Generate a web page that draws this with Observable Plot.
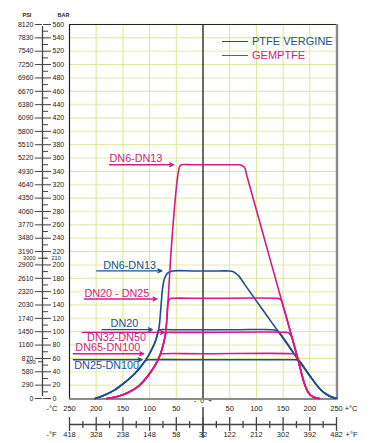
<!DOCTYPE html>
<html><head><meta charset="utf-8">
<script src="https://cdn.jsdelivr.net/npm/d3@7"></script>
<script src="https://cdn.jsdelivr.net/npm/@observablehq/plot@0.6"></script>
<style>
body{margin:0;background:#fff;}
#wrap{position:relative;width:371px;height:443px;font-family:"Liberation Sans",Arial,sans-serif;}
#legend{position:absolute;left:222px;top:34px;font-size:11px;line-height:14px;}
.row{display:flex;align-items:center;white-space:nowrap;}
.sw{display:inline-block;width:26px;height:0;border-top:1.5px solid;margin-right:4px;}
</style></head><body>
<div id="wrap"><div id="legend"></div></div>
<script>
// ---- data ----
const seriesNames = ["PTFE VERGINE", "GEMPTFE"];
const seriesColors = ["#1c4f8f", "#d41a84"];

const barMajor = [0,20,40,60,80,100,120,140,160,180,200,220,240,260,280,300,320,340,360,380,400,420,440,460,480,500,520,540,560];
const barMinor = [10,30,50,70,90,110,130,150,170,190,210,230,250,270,290,310,330,350,370,390,410,430,450,470,490,510,530,550];
const psiLabels = ["0","290","580","870","1160","1450","1740","2030","2320","2610","2900","3190","3480","3770","4060","4350","4640","4930","5220","5510","5800","6090","6380","6670","6960","7250","7540","7830","8120"];
const barExtra = [210, 55];
const psiExtra = ["3000", "800"];

const cTicks = [-250,-200,-150,-100,-50,0,50,100,150,200,250];
const cMinor = [-225,-175,-125,-75,-25,25,75,125,175,225];
const fLabels = ["418","328","238","148","58","32","122","212","302","392","482"];

// curves: [°C, bar]
const vergineDN6 = [[-202,0],[-185,5],[-165,13],[-145,25],[-128,37],[-114,50],[-103,63],[-95,75],[-89,86],[-85,97],[-82,108],[-80,125],[-78,145],[-76,163],[-73,177],[-69,185],[-64,189],[-57,191],[-20,191],[30,191],[50,191],[56,190],[61,187.5],[66,184.3],[79.6,169],[130,112.5],[179.4,57],[200,34],[215,18],[224,10.5],[232,6],[240,2.5],[248,0.5],[251,0]];
const vergineDN20 = [[-202,0],[-185,5],[-165,13],[-145,25],[-128,37],[-114,50],[-103,63],[-95,75],[-89,86],[-85,97],[-83.5,101.5],[-81,103],[-60,103],[60,103],[131,103],[136,102],[141,100],[179.4,57],[200,34],[215,18],[224,10.5],[232,6],[240,2.5],[248,0.5],[251,0]];
const vergineDN25 = [[-202,0],[-185,5],[-165,13],[-145,25],[-128,37],[-114,50],[-110,55],[-105,57.5],[-98,58],[0,58],[170,58],[175,57.8],[179.4,57],[200,34],[215,18],[224,10.5],[232,6],[240,2.5],[248,0.5],[251,0]];
const gemDN6 = [[-180,0],[-160,3],[-140,9],[-120,19],[-106,31],[-95,43],[-86,55],[-80,66],[-75,79],[-71,93],[-68,115],[-66,140],[-64,165],[-61,205],[-58,240],[-54,280],[-50,315],[-47,335],[-45,344],[-43,348.5],[-40,350],[-20,350],[40,350],[66,350],[71,349.6],[74.5,348],[78,345.6],[82,334],[130,196],[179.4,54],[185,36],[190,22],[195,12],[200,6],[206,2.5],[212,0.8],[218,0]];
const gemDN20 = [[-180,0],[-160,3],[-140,9],[-120,19],[-106,31],[-95,43],[-86,55],[-80,66],[-75,79],[-71,93],[-68,115],[-66,140],[-64.5,146],[-62,149.3],[-58,150],[0,150],[138,150],[143,149.3],[146.5,147],[149,141.4],[179.4,54],[185,36],[190,22],[195,12],[200,6],[206,2.5],[212,0.8],[218,0]];
const gemDN32 = [[-180,0],[-160,3],[-140,9],[-120,19],[-106,31],[-95,43],[-86,55],[-80,66],[-75,79],[-71,93],[-69.5,97.5],[-67,99],[-62,99],[0,99],[156,99],[160.5,98.3],[163.5,95.5],[166,92.5],[179.4,54],[185,36],[190,22],[195,12],[200,6],[206,2.5],[212,0.8],[218,0]];
const gemDN65 = [[-180,0],[-160,3],[-140,9],[-120,19],[-106,31],[-95,43],[-86,55],[-82.5,62],[-79.5,66.3],[-76,67],[0,67],[170,67],[174,66.2],[177,60.9],[179.4,54],[185,36],[190,22],[195,12],[200,6],[206,2.5],[212,0.8],[218,0]];

const curves = [
  ["PTFE VERGINE","DN6-DN13",vergineDN6],
  ["PTFE VERGINE","DN20",vergineDN20],
  ["PTFE VERGINE","DN25-DN100",vergineDN25],
  ["GEMPTFE","DN6-DN13",gemDN6],
  ["GEMPTFE","DN20-DN25",gemDN20],
  ["GEMPTFE","DN32-DN50",gemDN32],
  ["GEMPTFE","DN65-DN100",gemDN65]
];

// size labels with pointer arrows
const labelText   = ["DN6-DN13","DN6-DN13","DN20 - DN25","DN20","DN32-DN50","DN65-DN100","DN25-DN100"];
const labelSeries = ["GEMPTFE","PTFE VERGINE","GEMPTFE","PTFE VERGINE","GEMPTFE","GEMPTFE","PTFE VERGINE"];
const labelLevel  = [350,191,149,103,99,67,58];
const labelFrom   = [-175,-199,-222,-189,-226,-243,-243];
const labelTo     = [-55,-77,-86,-95,-72,-111,-114];
const labelTextX  = [-175,-187,-222,-173,-217,-239,-241];
const labelBelow  = [false,false,false,false,true,false,true];

// ---- build ----
const rows = [];
curves.forEach(([s, size, pts], k) => pts.forEach(([T, P]) => rows.push({id: k, series: s, size, T, P})));
const labels = labelText.map((t, i) => ({text: t, series: labelSeries[i], level: labelLevel[i], from: labelFrom[i], to: labelTo[i], tx: labelTextX[i], below: labelBelow[i]}));
const psiMap = new Map(barMajor.map((b, i) => [b, psiLabels[i]]));
const psiExtraMap = new Map(barExtra.map((b, i) => [b, psiExtra[i]]));
const cLabelTicks = cTicks.filter(d => d !== 0);

const font = "'Liberation Sans', Arial, sans-serif";
const chart = Plot.plot({
  width: 371, height: 443,
  marginLeft: 69, marginRight: 35, marginTop: 24, marginBottom: 45,
  style: {fontFamily: font, fontSize: "7.5px", background: "white", overflow: "visible"},
  x: {domain: [-250, 250]},
  y: {domain: [0, 560]},
  color: {domain: seriesNames, range: seriesColors},
  marks: [
    // grid
    Plot.ruleY(barMajor.filter(d => d % 40 === 0), {stroke: "#edf2c8", strokeWidth: 1.6}),
    Plot.ruleY(barMajor.filter(d => d % 40 === 20), {stroke: "#dce697", strokeWidth: 1}),
    Plot.ruleX(cTicks, {stroke: "#dce697", strokeWidth: 1}),
    // centre line
    Plot.ruleX([0], {stroke: "#111", strokeWidth: 1.2}),
    Plot.axisX([0], {anchor: "bottom", dy: 9, tickSize: 31, tickFormat: () => "", label: null, stroke: "#111", strokeWidth: 1.2}),
    Plot.text(["-  0  +"], {x: 0, frameAnchor: "bottom", dy: 4.5, text: d => d, fontSize: 7, fill: "#222"}),
    // frame
    Plot.ruleX([-250], {stroke: "#222", strokeWidth: 1.2}),
    Plot.ruleY([560], {stroke: "#222", strokeWidth: 1.2}),
    Plot.ruleX([250], {stroke: "#8a8a8a", strokeWidth: 2.4, dx: 0.5}),
    Plot.ruleY([0], {stroke: "#8a8a8a", strokeWidth: 2, dy: 0.5}),
    // left dual axis
    Plot.ruleX([-250], {y1: 0, y2: 560, dx: -27, stroke: "#444", strokeWidth: 1.3, insetTop: -2, insetBottom: -2}),
    Plot.axisY(barMajor, {anchor: "left", dx: -27, tickSize: 7, tickPadding: 2, tickFormat: d => psiMap.get(d), label: null, stroke: "#444", fill: "#222", fontSize: 7}),
    Plot.axisY(barExtra, {anchor: "left", dx: -27, tickSize: 4, tickPadding: 3, tickFormat: d => psiExtraMap.get(d), label: null, stroke: "#444", fill: "#222", fontSize: 5.6}),
    Plot.axisY(barMajor, {anchor: "right", dx: -294, tickSize: 8, tickPadding: 2, label: null, stroke: "#444", fill: "#222", fontSize: 7}),
    Plot.axisY([210], {anchor: "right", dx: -294, tickSize: 4, tickPadding: 5, label: null, stroke: "#444", fill: "#222", fontSize: 5.6}),
    Plot.axisY(barMinor, {anchor: "right", dx: -294, tickSize: 5, tickFormat: () => "", label: null, stroke: "#444"}),
    Plot.text(["PSI"], {frameAnchor: "top-left", dx: -47, dy: -11, text: d => d, fontSize: 5.5, fontWeight: "bold", fill: "#222"}),
    Plot.text(["BAR"], {frameAnchor: "top-left", dx: -12, dy: -11, text: d => d, fontSize: 5.5, fontWeight: "bold", fill: "#222"}),
    // bottom dual axis
    Plot.ruleY([0], {x1: -250, x2: 250, dy: 26, stroke: "#444", strokeWidth: 1.3}),
    Plot.axisX(cTicks, {anchor: "bottom", dy: 19, tickSize: 14, tickFormat: () => "", label: null, stroke: "#444", strokeWidth: 1.3}),
    Plot.axisX(cMinor, {anchor: "bottom", dy: 23, tickSize: 7, tickFormat: () => "", label: null, stroke: "#444", strokeWidth: 1.3}),
    Plot.text(cLabelTicks, {x: d => d, text: d => String(Math.abs(d)), frameAnchor: "bottom", dy: 12.5, fill: "#222"}),
    Plot.text(cTicks, {x: d => d, text: (d, i) => fLabels[i], frameAnchor: "bottom", dy: 38.5, fill: "#222"}),
    Plot.text(["-°C"], {frameAnchor: "bottom-left", dx: -23, dy: 12.5, text: d => d, fill: "#222"}),
    Plot.text(["-°F"], {frameAnchor: "bottom-left", dx: -23, dy: 38.5, text: d => d, fill: "#222"}),
    Plot.text(["+°C"], {frameAnchor: "bottom-right", dx: 21, dy: 12.5, text: d => d, fill: "#222"}),
    Plot.text(["+°F"], {frameAnchor: "bottom-right", dx: 21, dy: 38.5, text: d => d, fill: "#222"}),
    // curves
    Plot.line(rows, {x: "T", y: "P", z: "id", stroke: "series", curve: "catmull-rom", strokeWidth: 1.6}),
    // size labels
    Plot.arrow(labels, {x1: "from", x2: "to", y1: "level", y2: "level", stroke: "series", strokeWidth: 1.3, headLength: 5, headAngle: 50}),
    Plot.text(labels.filter(d => !d.below), {x: "tx", y: "level", text: "text", fill: "series", textAnchor: "start", dy: -5.8, fontSize: 10.8}),
    Plot.text(labels.filter(d => d.below), {x: "tx", y: "level", text: "text", fill: "series", textAnchor: "start", dy: 5.3, fontSize: 10.8})
  ]
});
document.getElementById("wrap").prepend(chart);

// legend
const legend = document.getElementById("legend");
seriesNames.forEach((s, i) => {
  const row = document.createElement("div");
  row.className = "row";
  row.style.color = seriesColors[i];
  row.innerHTML = `<span class="sw" style="border-color:${seriesColors[i]}"></span>${s}`;
  legend.appendChild(row);
});
</script>
</body></html>
